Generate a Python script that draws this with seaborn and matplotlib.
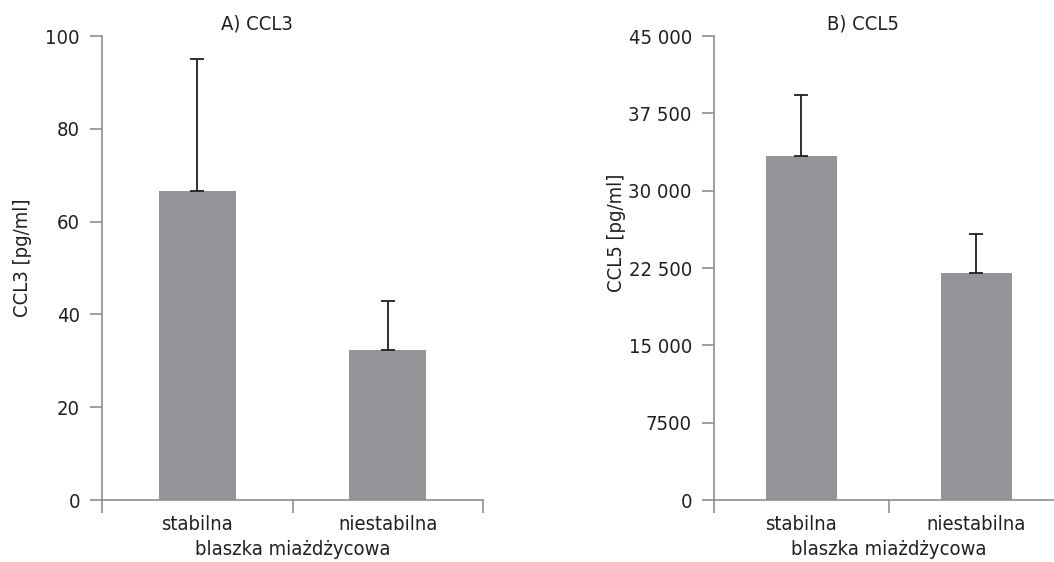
import matplotlib
matplotlib.use("Agg")
import matplotlib.pyplot as plt
from matplotlib import font_manager
from matplotlib.ticker import FixedLocator, NullFormatter
import numpy as np
import pandas as pd
import seaborn as sns

# Plaque type categories
categories = ["stabilna", "niestabilna"]

# Panel A: CCL3 concentrations (mean and upper error)
ccl3_mean = [66.6, 32.3]
ccl3_err = [28.4, 10.6]

# Panel B: CCL5 concentrations (mean and upper error)
ccl5_mean = [33400, 22050]
ccl5_err = [5850, 3720]

ccl3_ticks = [0, 20, 40, 60, 80, 100]
ccl3_ticklabels = ["0", "20", "40", "60", "80", "100"]
ccl5_ticks = [0, 7500, 15000, 22500, 30000, 37500, 45000]
ccl5_ticklabels = ["0", "7500", "15 000", "22 500", "30 000", "37 500", "45 000"]

titles = ["A) CCL3", "B) CCL5"]
ylabels = ["CCL3 [pg/ml]", "CCL5 [pg/ml]"]
xlabel = "blaszka miażdżycowa"

sns.set_theme(style="white")

names = {f.name for f in font_manager.fontManager.ttflist}
if "Liberation Sans Narrow" in names:
    plt.rcParams["font.family"] = ["Liberation Sans Narrow", "DejaVu Sans"]
else:
    plt.rcParams["font.family"] = ["DejaVu Sans"]
    plt.rcParams["font.stretch"] = "condensed"

BAR = "#939598"
AXIS = "#8f8f8f"
TEXT = "#231f20"
FS = 14.5

fig = plt.figure(figsize=(10.54, 5.62), dpi=100)
W, H = 1054, 562


def px_axes(x0, x1, ytop, ybot):
    return fig.add_axes([x0 / W, 1 - ybot / H, (x1 - x0) / W, (ybot - ytop) / H])


ax_a = px_axes(102, 483, 36, 500)
ax_b = px_axes(714, 1063.5, 36, 500)

panels = [
    (ax_a, ccl3_mean, ccl3_err, ccl3_ticks, ccl3_ticklabels, 100,
     0.407, (-0.184, 0.522)),
    (ax_b, ccl5_mean, ccl5_err, ccl5_ticks, ccl5_ticklabels, 45000,
     0.427, (-0.252, 0.575)),
]

for i, (ax, mean, err, ticks, tlabels, ymax, tx, ylab_pos) in enumerate(panels):
    df = pd.DataFrame({"blaszka": categories, "value": mean})
    sns.barplot(data=df, x="blaszka", y="value", ax=ax, color=BAR,
                saturation=1, width=0.405, errorbar=None, linewidth=0)
    pos = np.arange(len(categories))
    ax.errorbar(pos, mean, yerr=[np.zeros(len(err)), err], fmt="none",
                ecolor=TEXT, elinewidth=1.3, capsize=5.2, capthick=1.3,
                zorder=3)

    ax.set_xlim(-0.5, 1.5)
    ax.set_ylim(0, ymax)
    ax.set_yticks(ticks)
    ax.set_yticklabels(tlabels)

    # category boundaries get tick marks, labels sit at category centres
    ax.xaxis.set_major_locator(FixedLocator([-0.5, 0.5, 1.5]))
    ax.xaxis.set_major_formatter(NullFormatter())
    ax.xaxis.set_minor_locator(FixedLocator(pos))
    ax.set_xticklabels(categories, minor=True)
    ax.tick_params(axis="x", which="minor", length=0, pad=11,
                   labelsize=FS, labelcolor=TEXT)
    ax.tick_params(axis="x", which="major", length=9, width=1.2,
                   color=AXIS, direction="out", bottom=True)
    ax.tick_params(axis="y", length=9, width=1.2, color=AXIS,
                   direction="out", left=True, pad=7,
                   labelsize=FS, labelcolor=TEXT)

    for side in ["top", "right"]:
        ax.spines[side].set_visible(False)
    for side in ["left", "bottom"]:
        ax.spines[side].set_color(AXIS)
        ax.spines[side].set_linewidth(1.2)

    ax.set_xlabel(xlabel, fontsize=FS, color=TEXT, labelpad=4)
    ax.set_ylabel(ylabels[i], fontsize=FS, color=TEXT)
    ax.yaxis.set_label_coords(*ylab_pos)
    ax.text(tx, 1.026, titles[i], transform=ax.transAxes, ha="center",
            va="center", fontsize=FS, color=TEXT)
    ax.set_facecolor("white")

fig.savefig("out.png", dpi=100, facecolor="white")
